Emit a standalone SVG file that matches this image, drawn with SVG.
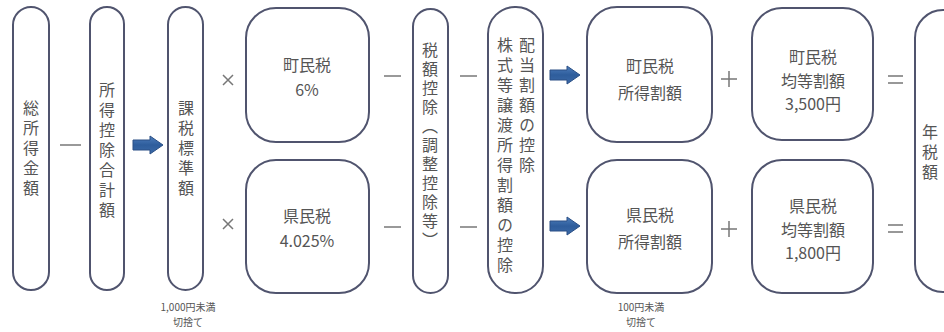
<svg xmlns="http://www.w3.org/2000/svg" width="944" height="332" viewBox="0 0 944 332">
<defs>
<linearGradient id="ag" x1="0" y1="0" x2="0" y2="1">
<stop offset="0" stop-color="#4f7fbd"/>
<stop offset="0.5" stop-color="#2e5d9c"/>
<stop offset="1" stop-color="#3c6aa8"/>
</linearGradient>
<path id="arr" d="M0,-5 H17 V-9 L30,0 L17,9 V5 H0 Z" fill="url(#ag)" stroke="#2a4f85" stroke-width="1"/>
</defs>
<style>
.b{fill:#ffffff;stroke:#50546e;stroke-width:2}
.t{font-family:"Noto Sans CJK JP","Liberation Sans",sans-serif;font-size:16px;fill:#555555}
.v{writing-mode:vertical-rl;letter-spacing:4px}
.v3{letter-spacing:3px}
.s{font-family:"Noto Sans CJK JP","Liberation Sans",sans-serif;font-size:10px;fill:#555555}
.op{stroke:#777777;stroke-width:1.5;fill:none}
</style>
<rect width="944" height="332" fill="#ffffff"/>

<g id="n-sousyotoku">
<rect class="b" x="13" y="7" width="36" height="283" rx="18"/>
<text class="t v" x="31" y="100">総所得金額</text>
</g>
<g id="n-koujo">
<rect class="b" x="90" y="7" width="34" height="283" rx="17"/>
<text class="t v" x="107" y="82">所得控除合計額</text>
</g>
<g id="n-kazei">
<rect class="b" x="168" y="7" width="35" height="283" rx="17.5"/>
<text class="t v" x="186" y="100">課税標準額</text>
<text class="s" x="188" y="311" text-anchor="middle">1,000円未満</text>
<text class="s" x="188" y="326" text-anchor="middle">切捨て</text>
</g>
<g id="n-chou-rate">
<rect class="b" x="246" y="8" width="123" height="134" rx="30"/>
<text class="t" x="307" y="71" text-anchor="middle">町民税</text>
<text class="t" x="307" y="96" text-anchor="middle">6%</text>
</g>
<g id="n-ken-rate">
<rect class="b" x="246" y="160" width="123" height="133" rx="30"/>
<text class="t" x="307" y="222" text-anchor="middle">県民税</text>
<text class="t" x="307" y="247" text-anchor="middle">4.025%</text>
</g>
<g id="n-zeigaku">
<rect class="b" x="413" y="9" width="35" height="284" rx="17.5"/>
<text class="t v v3" x="430" y="42">税額控除（調整控除等）</text>
</g>
<g id="n-haitou">
<rect class="b" x="488" y="7" width="55" height="286" rx="27"/>
<text class="t v" x="527" y="37">配当割額の控除</text>
<text class="t v" x="505" y="37">株式等譲渡所得割額の控除</text>
</g>
<g id="n-chou-shotoku">
<rect class="b" x="587" y="7" width="125" height="135" rx="30"/>
<text class="t" x="650" y="72" text-anchor="middle">町民税</text>
<text class="t" x="650" y="99" text-anchor="middle">所得割額</text>
</g>
<g id="n-ken-shotoku">
<rect class="b" x="587" y="160" width="125" height="133" rx="30"/>
<text class="t" x="650" y="221" text-anchor="middle">県民税</text>
<text class="t" x="650" y="248" text-anchor="middle">所得割額</text>
<text class="s" x="641" y="311" text-anchor="middle">100円未満</text>
<text class="s" x="641" y="326" text-anchor="middle">切捨て</text>
</g>
<g id="n-chou-kintou">
<rect class="b" x="752" y="8" width="121" height="132" rx="30"/>
<text class="t" x="813" y="63" text-anchor="middle">町民税</text>
<text class="t" x="813" y="87" text-anchor="middle">均等割額</text>
<text class="t" x="813" y="110" text-anchor="middle">3,500円</text>
</g>
<g id="n-ken-kintou">
<rect class="b" x="752" y="160" width="121" height="133" rx="30"/>
<text class="t" x="813" y="212" text-anchor="middle">県民税</text>
<text class="t" x="813" y="236" text-anchor="middle">均等割額</text>
<text class="t" x="813" y="259" text-anchor="middle">1,800円</text>
</g>
<g id="n-nenzeigaku">
<rect class="b" x="915" y="10" width="60" height="282" rx="28"/>
<text class="t v" x="930" y="124">年税額</text>
</g>

<g id="connectors">
<line class="op" x1="60" y1="145" x2="81" y2="145"/>
<use href="#arr" x="133" y="145"/>
<path class="op" d="M223,75 L233,85 M233,75 L223,85"/>
<path class="op" d="M223,219 L233,229 M233,219 L223,229"/>
<line class="op" x1="384" y1="76" x2="401" y2="76"/>
<line class="op" x1="384" y1="227" x2="401" y2="227"/>
<line class="op" x1="460" y1="76" x2="477" y2="76"/>
<line class="op" x1="460" y1="227" x2="477" y2="227"/>
<use href="#arr" x="550" y="75"/>
<use href="#arr" x="550" y="226"/>
<path class="op" d="M721,79 H737 M729,71 V87"/>
<path class="op" d="M721,229 H737 M729,221 V237"/>
<path class="op" d="M888,76 H903 M888,83 H903"/>
<path class="op" d="M888,225 H903 M888,232 H903"/>
</g>
</svg>
